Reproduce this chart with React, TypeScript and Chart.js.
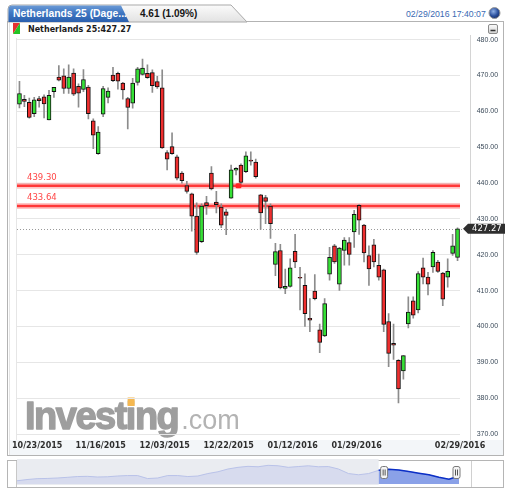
import { useEffect, useRef } from 'react';
import { Chart, registerables } from 'chart.js';

Chart.register(...registerables);

// ---------- DATA ----------
const dates = [
  '10/23/2015', '10/26/2015', '10/27/2015', '10/28/2015', '10/29/2015', '10/30/2015',
  '11/02/2015', '11/03/2015', '11/04/2015', '11/05/2015', '11/06/2015',
  '11/09/2015', '11/10/2015', '11/11/2015', '11/12/2015', '11/13/2015',
  '11/16/2015', '11/17/2015', '11/18/2015', '11/19/2015', '11/20/2015',
  '11/23/2015', '11/24/2015', '11/25/2015', '11/26/2015', '11/27/2015', '11/30/2015',
  '12/01/2015', '12/02/2015', '12/03/2015', '12/04/2015',
  '12/07/2015', '12/08/2015', '12/09/2015', '12/10/2015', '12/11/2015',
  '12/14/2015', '12/15/2015', '12/16/2015', '12/17/2015', '12/18/2015',
  '12/21/2015', '12/22/2015', '12/23/2015', '12/24/2015',
  '12/28/2015', '12/29/2015', '12/30/2015', '12/31/2015',
  '01/04/2016', '01/05/2016', '01/06/2016', '01/07/2016', '01/08/2016',
  '01/11/2016', '01/12/2016', '01/13/2016', '01/14/2016', '01/15/2016',
  '01/18/2016', '01/19/2016', '01/20/2016', '01/21/2016', '01/22/2016',
  '01/25/2016', '01/26/2016', '01/27/2016', '01/28/2016', '01/29/2016',
  '02/01/2016', '02/02/2016', '02/03/2016', '02/04/2016', '02/05/2016',
  '02/08/2016', '02/09/2016', '02/10/2016', '02/11/2016', '02/12/2016',
  '02/15/2016', '02/16/2016', '02/17/2016', '02/18/2016', '02/19/2016',
  '02/22/2016', '02/23/2016', '02/24/2016', '02/25/2016', '02/26/2016',
  '02/29/2016',
];

const opens = [
  462.0, 463.4, 462.5, 459.4, 463.6, 464.1, 457.6, 465.5, 469.6, 469.9,
  466.4, 470.7, 467.0, 466.1, 466.8, 457.4, 448.2, 459.2, 463.9, 470.1,
  470.6, 467.9, 463.6, 462.3, 468.1, 470.3, 470.6, 470.8, 468.3, 466.6,
  448.5, 450.2, 447.3, 442.8, 439.3, 437.0, 430.8, 423.7, 434.6, 442.8,
  434.7, 433.3, 432.0, 435.8, 443.6, 445.0, 443.2, 446.4, 445.9, 436.7,
  436.0, 433.6, 417.3, 421.2, 410.6, 411.2, 421.0, 413.7, 411.5, 402.3,
  409.9, 399.1, 397.4, 414.6, 422.5, 411.8, 421.2, 423.4, 426.4, 433.8,
  428.3, 419.8, 422.8, 417.1, 415.8, 401.4, 395.3, 390.6, 387.6, 400.7,
  407.2, 404.6, 416.4, 413.8, 416.6, 418.0, 414.9, 413.8, 420.4, 419.3,
];

const highs = [
  468.4, 464.5, 463.7, 463.9, 464.2, 464.6, 465.9, 466.7, 472.8, 471.9,
  473.0, 471.9, 467.7, 471.7, 467.3, 457.9, 455.8, 467.0, 466.6, 472.3,
  471.0, 468.1, 463.9, 469.2, 472.3, 474.6, 473.0, 471.6, 469.8, 471.6,
  449.1, 454.0, 447.8, 443.2, 440.5, 437.2, 434.5, 434.2, 436.3, 444.6,
  437.7, 434.2, 432.7, 445.0, 444.3, 445.4, 448.7, 448.7, 446.7, 436.9,
  436.6, 434.2, 423.2, 422.9, 416.0, 418.9, 425.7, 416.5, 414.7, 407.8,
  414.5, 400.7, 407.8, 422.1, 422.9, 422.1, 424.8, 424.8, 432.4, 434.0,
  428.5, 422.5, 424.3, 420.2, 416.0, 403.6, 400.7, 390.8, 391.9, 408.3,
  408.3, 415.3, 419.1, 415.1, 421.2, 418.5, 415.1, 418.9, 425.7, 427.5,
];

const lows = [
  461.0, 461.3, 458.1, 458.5, 461.2, 458.2, 457.6, 463.9, 468.5, 465.0,
  465.0, 464.4, 461.2, 465.5, 457.9, 449.6, 448.0, 458.5, 462.4, 468.3,
  466.2, 463.4, 455.1, 460.9, 467.3, 470.1, 469.2, 465.3, 466.4, 449.7,
  443.7, 448.0, 440.9, 440.0, 437.2, 426.6, 420.1, 423.4, 431.3, 438.1,
  431.7, 427.6, 425.6, 435.7, 442.3, 439.7, 442.9, 445.0, 441.4, 427.1,
  428.7, 424.6, 414.2, 410.5, 409.2, 411.0, 416.4, 404.6, 400.0, 398.6,
  407.4, 392.7, 397.2, 412.9, 417.6, 410.1, 417.1, 417.1, 422.1, 425.7,
  418.0, 411.5, 416.6, 412.9, 398.6, 388.8, 390.8, 378.7, 385.3, 399.6,
  402.3, 403.8, 411.9, 408.8, 415.1, 415.1, 405.8, 411.0, 419.8, 418.4,
];

const closes = [
  465.0, 462.8, 458.3, 463.2, 463.0, 462.1, 464.5, 466.7, 468.7, 466.4,
  469.6, 464.8, 465.1, 468.9, 459.4, 453.4, 454.2, 466.4, 465.7, 468.6,
  468.4, 466.0, 461.1, 467.9, 471.9, 472.1, 469.4, 467.2, 466.8, 449.8,
  446.7, 448.2, 441.4, 440.7, 437.7, 430.8, 420.7, 433.6, 433.7, 438.4,
  434.0, 428.3, 431.0, 443.7, 444.1, 440.2, 447.6, 446.1, 441.8, 431.7,
  434.9, 428.7, 420.9, 410.8, 411.2, 416.4, 418.0, 413.5, 403.6, 401.8,
  407.8, 395.6, 406.4, 419.3, 418.0, 421.9, 424.1, 420.1, 431.3, 429.7,
  420.5, 416.1, 418.0, 413.8, 400.6, 392.5, 394.8, 382.6, 391.9, 404.0,
  403.2, 414.8, 413.8, 411.8, 420.7, 415.4, 407.6, 415.4, 422.5, 427.27,
];

const axisDates = ['10/23/2015', '11/16/2015', '12/03/2015', '12/22/2015', '01/12/2016', '01/29/2016', '02/29/2016'];
const yMin = 370;
const yMax = 480;
const yStep = 10;
const levels = [439.3, 433.64];
const lastPrice = 427.27;
const markerIndex = 44.5;
const markerValue = 439.3;

const navValues = [
  367, 378, 386, 388, 392, 398, 405, 407, 401, 403,
  410, 414, 414, 387, 392, 414, 414, 405, 410, 432,
  448, 473, 488, 497, 493, 506, 502, 488, 495, 502,
  493, 495, 473, 432, 421, 432, 461, 470, 464, 450,
  435, 421, 398, 381, 410,
];
const navSelectedFrom = 36;

// ---------- COMPONENT ----------
const UP = '#35e035';
const DOWN = '#ee2e2e';

export default function App() {
  const mainRef = useRef<HTMLCanvasElement | null>(null);
  const navRef = useRef<HTMLCanvasElement | null>(null);

  useEffect(() => {
    const mainCanvas = mainRef.current!;
    const navCanvas = navRef.current!;

    const overlay = {
      id: 'overlay',
      beforeDraw(chart: any) {
        const ctx = chart.ctx as CanvasRenderingContext2D;
        ctx.save();
        ctx.textBaseline = 'alphabetic';
        ctx.font = 'bold 38px "Liberation Sans", Arial, sans-serif';
        (ctx as any).letterSpacing = '-1.5px';
        ctx.fillStyle = '#9e9e9e';
        ctx.strokeStyle = '#9e9e9e';
        ctx.lineWidth = 1.4;
        ctx.lineJoin = 'round';
        ctx.fillText('Investing', 25, 429);
        ctx.strokeText('Investing', 25, 429);
        const wInvest = ctx.measureText('Invest').width;
        const wAll = ctx.measureText('Investing').width;
        (ctx as any).letterSpacing = '0px';
        ctx.fillStyle = '#f5b851';
        ctx.fillRect(25 + wInvest + 1.8, 397.5, 7, 8.5);
        ctx.font = '27px "Liberation Sans", Arial, sans-serif';
        ctx.fillStyle = '#b3b3b3';
        ctx.fillText('.com', 25 + wAll + 3, 429);
        ctx.restore();
      },
      beforeDatasetsDraw(chart: any) {
        const ctx = chart.ctx as CanvasRenderingContext2D;
        const { left, right } = chart.chartArea;
        const ys = chart.scales.y;
        ctx.save();
        const yp = ys.getPixelForValue(lastPrice);
        ctx.strokeStyle = '#9a9a9a';
        ctx.lineWidth = 1;
        ctx.setLineDash([1, 2]);
        ctx.beginPath();
        ctx.moveTo(left, Math.round(yp) + 0.5);
        ctx.lineTo(464, Math.round(yp) + 0.5);
        ctx.stroke();
        ctx.setLineDash([]);
        for (const v of levels) {
          const y = ys.getPixelForValue(v);
          ctx.strokeStyle = 'rgba(255,90,90,0.35)';
          ctx.lineWidth = 6;
          ctx.beginPath();
          ctx.moveTo(left, y);
          ctx.lineTo(right, y);
          ctx.stroke();
          ctx.strokeStyle = '#ff3838';
          ctx.lineWidth = 2.5;
          ctx.beginPath();
          ctx.moveTo(left, y);
          ctx.lineTo(right, y);
          ctx.stroke();
          ctx.fillStyle = '#ff4646';
          ctx.font = '8.5px "DejaVu Sans", sans-serif';
          ctx.textBaseline = 'alphabetic';
          ctx.fillText(v.toFixed(2), 27, y - 6);
        }
        ctx.restore();
      },
      afterDatasetsDraw(chart: any) {
        const ctx = chart.ctx as CanvasRenderingContext2D;
        const xs = chart.scales.x;
        const ys = chart.scales.y;
        ctx.save();
        const mx = xs.getPixelForValue(markerIndex);
        const my = ys.getPixelForValue(markerValue);
        ctx.fillStyle = '#ff2424';
        ctx.beginPath();
        (ctx as any).roundRect(mx - 3, my - 2.5, 6, 5, 1.5);
        ctx.fill();
        const yp = ys.getPixelForValue(lastPrice);
        ctx.fillStyle = '#2f2f2f';
        ctx.beginPath();
        ctx.moveTo(463, yp);
        ctx.lineTo(468, yp - 5);
        ctx.lineTo(505, yp - 5);
        ctx.lineTo(505, yp + 5);
        ctx.lineTo(468, yp + 5);
        ctx.closePath();
        ctx.fill();
        ctx.fillStyle = '#ffffff';
        ctx.font = '8.5px "DejaVu Sans", sans-serif';
        ctx.textBaseline = 'middle';
        ctx.fillText(lastPrice.toFixed(2), 472, yp + 0.5);
        ctx.fillStyle = '#2e2e2e';
        ctx.font = 'bold 8px "DejaVu Sans", sans-serif';
        ctx.textBaseline = 'middle';
        for (const d of axisDates) {
          const i = dates.indexOf(d);
          if (i < 0) continue;
          const x = xs.getPixelForValue(i) + 2.5;
          const w = ctx.measureText(d).width;
          let l = x - w / 2;
          if (l < 12) l = 12;
          if (l + w > 489) l = 489 - w;
          ctx.fillText(d, l, 445.5);
        }
        ctx.restore();
      },
    };

    const main = new Chart(mainCanvas, {
      type: 'bar',
      data: {
        labels: dates,
        datasets: [
          {
            label: 'body',
            data: opens.map((o, i) => [o, closes[i]]) as any,
            backgroundColor: opens.map((o, i) => (closes[i] >= o ? UP : DOWN)),
            borderColor: '#111111',
            borderWidth: 1,
            borderSkipped: false,
            barThickness: 4,
            grouped: false,
            order: 0,
          } as any,
          {
            label: 'wick',
            data: lows.map((l, i) => [l, highs[i]]) as any,
            backgroundColor: '#8c8c8c',
            borderWidth: 0,
            barThickness: 1,
            grouped: false,
            order: 1,
          } as any,
        ],
      },
      options: {
        responsive: false,
        animation: false,
        events: [],
        layout: { padding: { left: 17, top: 39.7, right: 0, bottom: 16 } },
        plugins: { legend: { display: false }, tooltip: { enabled: false } },
        scales: {
          x: { type: 'category', display: false, offset: true, grid: { display: false } },
          y: {
            position: 'right',
            min: yMin,
            max: yMax,
            afterFit: (s: any) => {
              s.width = 52;
            },
            border: { display: false },
            grid: { color: '#e6e6e6', lineWidth: 1, drawTicks: false },
            ticks: {
              stepSize: yStep,
              padding: 16.7,
              color: '#3c4b5a',
              font: { family: '"Liberation Sans", Arial, sans-serif', size: 7 },
              callback: (v: any) => Number(v).toFixed(2),
            },
          },
        },
      },
      plugins: [overlay],
    });

    const navPlugin = {
      id: 'navbg',
      beforeDatasetsDraw(chart: any) {
        const ctx = chart.ctx as CanvasRenderingContext2D;
        const { left, top, bottom } = chart.chartArea;
        const xs = chart.scales.x;
        const xsel = xs.getPixelForValue(navSelectedFrom);
        ctx.save();
        ctx.fillStyle = '#eaecf1';
        ctx.fillRect(left, top - 2, xsel - left, bottom - top + 3);
        ctx.restore();
      },
      afterDatasetsDraw(chart: any) {
        const ctx = chart.ctx as CanvasRenderingContext2D;
        const xs = chart.scales.x;
        const { right, top } = chart.chartArea;
        const xsel = xs.getPixelForValue(navSelectedFrom);
        const handles = [xsel + 5.5, right - 2.5];
        ctx.save();
        for (const hx of handles) {
          ctx.fillStyle = '#f4f4f4';
          ctx.strokeStyle = '#7a7a7a';
          ctx.lineWidth = 1;
          ctx.beginPath();
          (ctx as any).roundRect(hx - 3.5, top + 5.5, 7, 12, 2);
          ctx.fill();
          ctx.stroke();
          ctx.strokeStyle = '#555';
          ctx.beginPath();
          ctx.moveTo(hx - 1, top + 8.5);
          ctx.lineTo(hx - 1, top + 14.5);
          ctx.moveTo(hx + 1, top + 8.5);
          ctx.lineTo(hx + 1, top + 14.5);
          ctx.stroke();
        }
        ctx.restore();
      },
    };

    const nav = new Chart(navCanvas, {
      type: 'line',
      data: {
        labels: navValues.map((_, i) => String(i)),
        datasets: [
          {
            data: navValues.map((v, i) => (i >= navSelectedFrom ? v : null)),
            borderColor: '#0b2fc6',
            backgroundColor: '#8aa1e8',
            borderWidth: 1.5,
            pointRadius: 0,
            fill: 'start',
            tension: 0,
            order: 0,
          },
          {
            data: navValues,
            borderColor: '#b9c2e8',
            backgroundColor: '#d7dbee',
            borderWidth: 1,
            pointRadius: 0,
            fill: 'start',
            tension: 0,
            order: 1,
          },
        ],
      },
      options: {
        responsive: false,
        animation: false,
        events: [],
        layout: { padding: { left: 17, right: 53, top: 6, bottom: 10 } },
        plugins: { legend: { display: false }, tooltip: { enabled: false } },
        scales: {
          x: { type: 'category', display: false, offset: false },
          y: { display: false, min: 338, max: 545 },
        },
      },
      plugins: [navPlugin],
    });

    return () => {
      main.destroy();
      nav.destroy();
    };
  }, []);

  return (
    <div
      style={{
        position: 'fixed',
        left: 0,
        top: 0,
        width: 512,
        height: 494,
        overflow: 'hidden',
        background: '#ffffff',
      }}
    >
      <svg
        width={512}
        height={494}
        style={{ position: 'absolute', left: 0, top: 0 }}
        xmlns="http://www.w3.org/2000/svg"
      >
        <defs>
          <linearGradient id="blueTab" x1="0" y1="0" x2="0" y2="1">
            <stop offset="0" stopColor="#6b9ad6" />
            <stop offset="0.45" stopColor="#3f77c2" />
            <stop offset="1" stopColor="#2a5fae" />
          </linearGradient>
          <linearGradient id="grayTab" x1="0" y1="0" x2="0" y2="1">
            <stop offset="0" stopColor="#fbfbfb" />
            <stop offset="1" stopColor="#e2e2e2" />
          </linearGradient>
          <radialGradient id="globe" cx="0.4" cy="0.35" r="0.7">
            <stop offset="0" stopColor="#8fb0e6" />
            <stop offset="0.6" stopColor="#2a4f9c" />
            <stop offset="1" stopColor="#1a2f66" />
          </radialGradient>
          <linearGradient id="btn" x1="0" y1="0" x2="0" y2="1">
            <stop offset="0" stopColor="#fdfdfd" />
            <stop offset="1" stopColor="#cfcfcf" />
          </linearGradient>
        </defs>
        <rect x={7.5} y={21.5} width={496} height={434} fill="#ffffff" stroke="#b3b3b3" />
        <line x1={9.5} y1={22} x2={9.5} y2={455} stroke="#e4e4e4" />
        <rect x={10} y={440} width={493} height={15} fill="#f3f6f9" />
        <line x1={16.5} y1={38} x2={16.5} y2={440} stroke="#e6e6e6" />
        <line x1={470.5} y1={35} x2={470.5} y2={440} stroke="#d4d4d4" />
        <path d="M8,22 L8,9 Q8,5 12,5 L231,5 L247,22 Z" fill="url(#grayTab)" stroke="#a9a9a9" />
        <path d="M8.5,22 L8.5,9 Q8.5,5.5 12,5.5 L121,5.5 L129,22 Z" fill="url(#blueTab)" />
        <text
          x={13}
          y={17.3}
          fill="#ffffff"
          fontFamily='"Liberation Sans", Arial, sans-serif'
          fontWeight="bold"
          fontSize={10.3}
        >
          Netherlands 25 (Dage...
        </text>
        <text
          x={140}
          y={17.3}
          fill="#161616"
          fontFamily='"Liberation Sans", Arial, sans-serif'
          fontWeight="bold"
          fontSize={10}
        >
          4.61 (1.09%)
        </text>
        <text x={406} y={16.8} fill="#3a6ab3" fontFamily='"Liberation Sans", Arial, sans-serif' fontSize={8.7}>
          02/29/2016 17:40:07
        </text>
        <circle cx={494.5} cy={13} r={5.5} fill="url(#globe)" stroke="#9a9a9a" strokeWidth={1} />
        <polygon points="13,23 20,23 13,34" fill="#e53232" />
        <polygon points="20,23 20,34 13,34" fill="#25c425" />
        <text
          x={28}
          y={31.7}
          fill="#1c1c1c"
          fontFamily='"DejaVu Sans", sans-serif'
          fontWeight="bold"
          fontSize={8}
        >
          Netherlands 25:427.27
        </text>
        <rect x={488.5} y={24.5} width={9} height={9} rx={1.5} fill="url(#btn)" stroke="#8a8a8a" />
        <line x1={490.5} y1={30.5} x2={495.5} y2={30.5} stroke="#333333" strokeWidth={1.5} />
        <rect x={7.5} y={460.5} width={496} height={27} fill="#ffffff" stroke="#b5b5b5" />
        <line x1={16.5} y1={461} x2={16.5} y2={487} stroke="#c8c8c8" />
        <line x1={471.5} y1={461} x2={471.5} y2={487} stroke="#d0d0d0" />
      </svg>
      <canvas
        ref={mainRef}
        width={512}
        height={455}
        style={{ position: 'absolute', left: 0, top: 0, width: 512, height: 455 }}
      />
      <canvas
        ref={navRef}
        width={512}
        height={39}
        style={{ position: 'absolute', left: 0, top: 455, width: 512, height: 39 }}
      />
    </div>
  );
}
